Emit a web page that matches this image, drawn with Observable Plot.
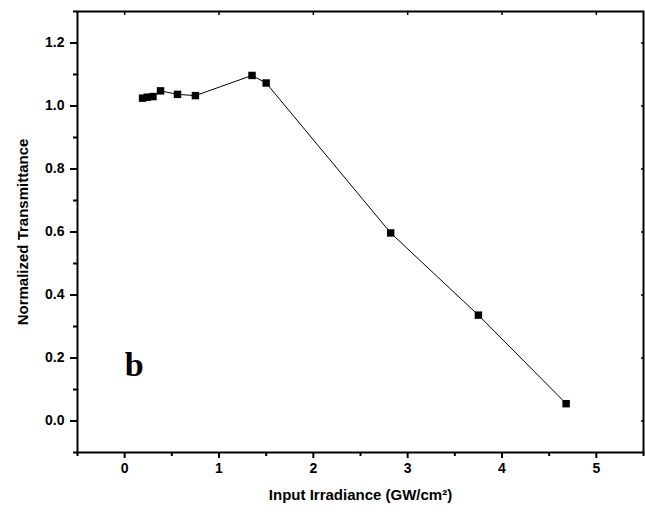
<!DOCTYPE html>
<html>
<head>
<meta charset="utf-8">
<script src="https://cdn.jsdelivr.net/npm/d3@7"></script>
<script src="https://cdn.jsdelivr.net/npm/@observablehq/plot@0.6"></script>
<style>
  html, body { margin: 0; padding: 0; background: #fff; }
  #chart { width: 645px; height: 516px; }
</style>
</head>
<body>
<div id="chart"></div>
<script>
// Data
const irradiance = [0.19, 0.24, 0.30, 0.38, 0.56, 0.75, 1.35, 1.50, 2.82, 3.75, 4.68];
const transmittance = [1.025, 1.028, 1.030, 1.048, 1.037, 1.033, 1.097, 1.073, 0.597, 0.336, 0.055];
const xMajorTicks = [0, 1, 2, 3, 4, 5];
const xMinorTicks = [-0.5, 0.5, 1.5, 2.5, 3.5, 4.5, 5.5];
const yMajorTicks = [0.0, 0.2, 0.4, 0.6, 0.8, 1.0, 1.2];
const yMinorTicks = [-0.1, 0.1, 0.3, 0.5, 0.7, 0.9, 1.1, 1.3];
const panelLabel = "b";
const xTitle = "Input Irradiance (GW/cm\u00B2)";
const yTitle = "Normalized Transmittance";

const data = irradiance.map((x, i) => ({x, y: transmittance[i]}));
const blank = () => "";

const chart = Plot.plot({
  width: 645,
  height: 516,
  marginLeft: 77,
  marginRight: 2,
  marginTop: 11,
  marginBottom: 64,
  style: {fontFamily: "'Liberation Sans', Arial, sans-serif", background: "#fff", color: "#000"},
  x: {domain: [-0.5, 5.5]},
  y: {domain: [-0.1, 1.3]},
  marks: [
    Plot.axisX({ticks: xMajorTicks, tickSize: 6, tickPadding: 5, tickFormat: d => d3.format("d")(d),
      fontSize: 14, fontWeight: "bold", strokeWidth: 2, label: null}),
    Plot.axisX({ticks: xMinorTicks, tickSize: 4, strokeWidth: 2, tickFormat: blank, label: null}),
    Plot.axisX({anchor: "top", ticks: xMajorTicks, tickSize: -3, strokeWidth: 1.5, tickFormat: blank, label: null}),
    Plot.axisY({ticks: yMajorTicks, tickSize: 7, tickPadding: 6, tickFormat: d3.format(".1f"),
      fontSize: 14, fontWeight: "bold", strokeWidth: 2, label: null}),
    Plot.axisY({ticks: yMinorTicks, tickSize: 4, strokeWidth: 2, tickFormat: blank, label: null}),
    Plot.axisY({anchor: "right", ticks: yMajorTicks, tickSize: -3, strokeWidth: 1.5, tickFormat: blank, label: null}),
    Plot.frame({stroke: "#000", strokeWidth: 2}),
    Plot.line(data, {x: "x", y: "y", stroke: "#000", strokeWidth: 1}),
    Plot.dot(data, {x: "x", y: "y", symbol: "square", r: 4.2, fill: "#000", stroke: "none"}),
    Plot.text([panelLabel], {x: 0, y: 0.143, text: d => d, textAnchor: "start", lineAnchor: "bottom",
      fontFamily: "'Liberation Serif', 'Times New Roman', serif", fontWeight: "bold", fontSize: 34, fill: "#000"}),
    Plot.text([xTitle], {frameAnchor: "bottom", textAnchor: "middle", dy: 47, text: d => d, fontSize: 15, fontWeight: "bold", fill: "#000"}),
    Plot.text([yTitle], {frameAnchor: "left", textAnchor: "middle", dx: -54, rotate: -90, text: d => d, fontSize: 15, fontWeight: "bold", fill: "#000"})
  ]
});
document.getElementById("chart").appendChild(chart);
</script>
</body>
</html>
